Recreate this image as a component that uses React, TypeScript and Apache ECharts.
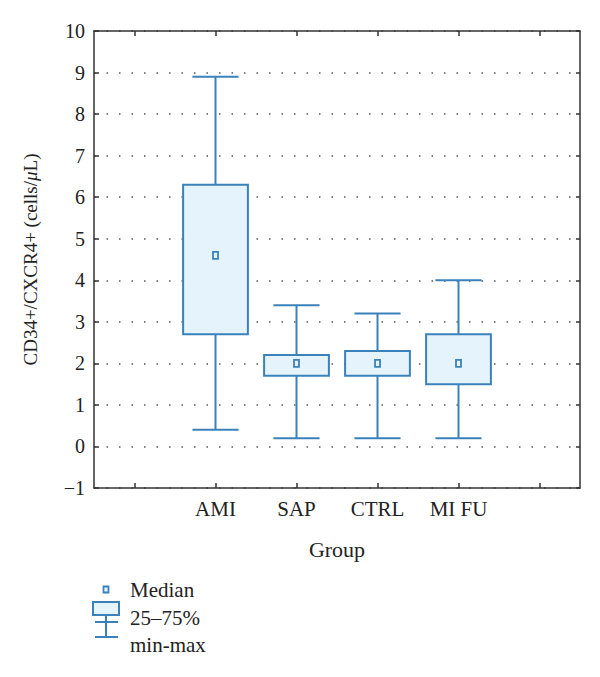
import React, { useEffect, useRef } from "react";
import * as echarts from "echarts";

const categories = ["", "AMI", "SAP", "CTRL", "MI FU", ""];
// [categoryIndex, min, q1, median, q3, max]
const boxData = [
  [1, 0.4, 2.7, 4.6, 6.3, 8.9],
  [2, 0.2, 1.7, 2.0, 2.2, 3.4],
  [3, 0.2, 1.7, 2.0, 2.3, 3.2],
  [4, 0.2, 1.5, 2.0, 2.7, 4.0],
];
const yTicks = { min: -1, max: 10, interval: 1 };
const legendLabels = ["Median", "25–75%", "min-max"];

const BLUE = "#3b82bb";
const FILL = "#e4f3fc";
const AXIS = "#333";
const FONT = "Liberation Serif";
const TXT = "#222";

export default function App() {
  const ref = useRef<HTMLDivElement>(null);
  useEffect(() => {
    if (!ref.current) return;
    const chart = echarts.init(ref.current, undefined, { renderer: "svg" });
    const axisLine = { show: true, onZero: false, lineStyle: { color: AXIS, width: 1.5 } };
    const tick = (len: number, align = false) => ({
      show: true,
      inside: true,
      alignWithLabel: align,
      length: len,
      lineStyle: { color: AXIS, width: 1.5 },
    });
    const option: any = {
      animation: false,
      backgroundColor: "#fff",
      grid: { left: 94, right: 20, top: 31, bottom: 189 },
      xAxis: [
        {
          type: "category",
          data: categories,
          position: "bottom",
          axisLine,
          axisTick: tick(5, true),
          axisLabel: { fontFamily: FONT, fontSize: 21, color: TXT, margin: 10 },
          splitLine: { show: false },
          name: "Group",
          nameLocation: "middle",
          nameGap: 50,
          nameTextStyle: { fontFamily: FONT, fontSize: 22, color: TXT },
        },
        {
          type: "category",
          data: categories,
          position: "top",
          axisLine,
          axisTick: tick(5, true),
          axisLabel: { show: false },
          splitLine: { show: false },
        },
      ],
      yAxis: [
        {
          type: "value",
          min: yTicks.min,
          max: yTicks.max,
          interval: yTicks.interval,
          position: "left",
          axisLine,
          axisTick: tick(5),
          axisLabel: {
            fontFamily: FONT,
            fontSize: 20,
            color: TXT,
            margin: 9,
            formatter: (v: number) => (v < 0 ? "\u2212" + Math.abs(v) : String(v)),
          },
          splitLine: { show: true, lineStyle: { color: "#555", width: 1.5, type: [1.5, 11] } },
          name: "CD34+/CXCR4+ (cells/{i|μ}L)",
          nameLocation: "middle",
          nameGap: 54,
          nameTextStyle: {
            fontFamily: FONT,
            fontSize: 19,
            color: TXT,
            rich: { i: { fontFamily: FONT, fontSize: 19, fontStyle: "italic", color: TXT } },
          },
        },
        {
          type: "value",
          min: yTicks.min,
          max: yTicks.max,
          interval: yTicks.interval,
          position: "right",
          axisLine,
          axisTick: tick(4),
          axisLabel: { show: false },
          splitLine: { show: false },
        },
      ],
      series: [
        {
          type: "custom",
          xAxisIndex: 0,
          yAxisIndex: 0,
          data: boxData,
          encode: { x: 0, y: [1, 2, 3, 4, 5] },
          renderItem: (params: any, api: any) => {
            const idx = api.value(0);
            const mn = api.value(1), q1 = api.value(2), md = api.value(3), q3 = api.value(4), mx = api.value(5);
            const cx = api.coord([idx, md])[0];
            const band = api.size([1, 0])[0];
            const boxW = band * 0.8;
            const capW = band * 0.57;
            const yMin = api.coord([idx, mn])[1];
            const yQ1 = api.coord([idx, q1])[1];
            const yMd = api.coord([idx, md])[1];
            const yQ3 = api.coord([idx, q3])[1];
            const yMax = api.coord([idx, mx])[1];
            const ls = { stroke: BLUE, lineWidth: 2, fill: "none" };
            return {
              type: "group",
              children: [
                { type: "line", shape: { x1: cx, y1: yQ3, x2: cx, y2: yMax }, style: ls },
                { type: "line", shape: { x1: cx, y1: yMin, x2: cx, y2: yQ1 }, style: ls },
                { type: "line", shape: { x1: cx - capW / 2, y1: yMax, x2: cx + capW / 2, y2: yMax }, style: ls },
                { type: "line", shape: { x1: cx - capW / 2, y1: yMin, x2: cx + capW / 2, y2: yMin }, style: ls },
                {
                  type: "rect",
                  shape: { x: cx - boxW / 2, y: yQ3, width: boxW, height: yQ1 - yQ3 },
                  style: { fill: FILL, stroke: BLUE, lineWidth: 2 },
                },
                {
                  type: "rect",
                  shape: { x: cx - 2.5, y: yMd - 3.5, width: 5, height: 7 },
                  style: { fill: FILL, stroke: BLUE, lineWidth: 1.8 },
                },
              ],
            };
          },
        },
      ],
      graphic: [
        { type: "rect", shape: { x: 103.5, y: 586.5, width: 5, height: 6 }, style: { fill: FILL, stroke: BLUE, lineWidth: 1.8 } },
        { type: "rect", shape: { x: 93, y: 602, width: 26, height: 13 }, style: { fill: FILL, stroke: BLUE, lineWidth: 2 } },
        { type: "line", shape: { x1: 106, y1: 615, x2: 106, y2: 637 }, style: { stroke: BLUE, lineWidth: 2 } },
        { type: "line", shape: { x1: 95, y1: 622, x2: 118, y2: 622 }, style: { stroke: BLUE, lineWidth: 2 } },
        { type: "line", shape: { x1: 95, y1: 637, x2: 118, y2: 637 }, style: { stroke: BLUE, lineWidth: 2 } },
        { type: "text", style: { text: legendLabels[0], x: 130, y: 590, fontFamily: FONT, fontSize: 21, fill: TXT, verticalAlign: "middle" } },
        { type: "text", style: { text: legendLabels[1], x: 130, y: 618, fontFamily: FONT, fontSize: 21, fill: TXT, verticalAlign: "middle" } },
        { type: "text", style: { text: legendLabels[2], x: 130, y: 645, fontFamily: FONT, fontSize: 21, fill: TXT, verticalAlign: "middle" } },
      ],
    };
    chart.setOption(option);
    return () => chart.dispose();
  }, []);
  return <div ref={ref} style={{ width: 600, height: 677, margin: -8 }} />;
}
